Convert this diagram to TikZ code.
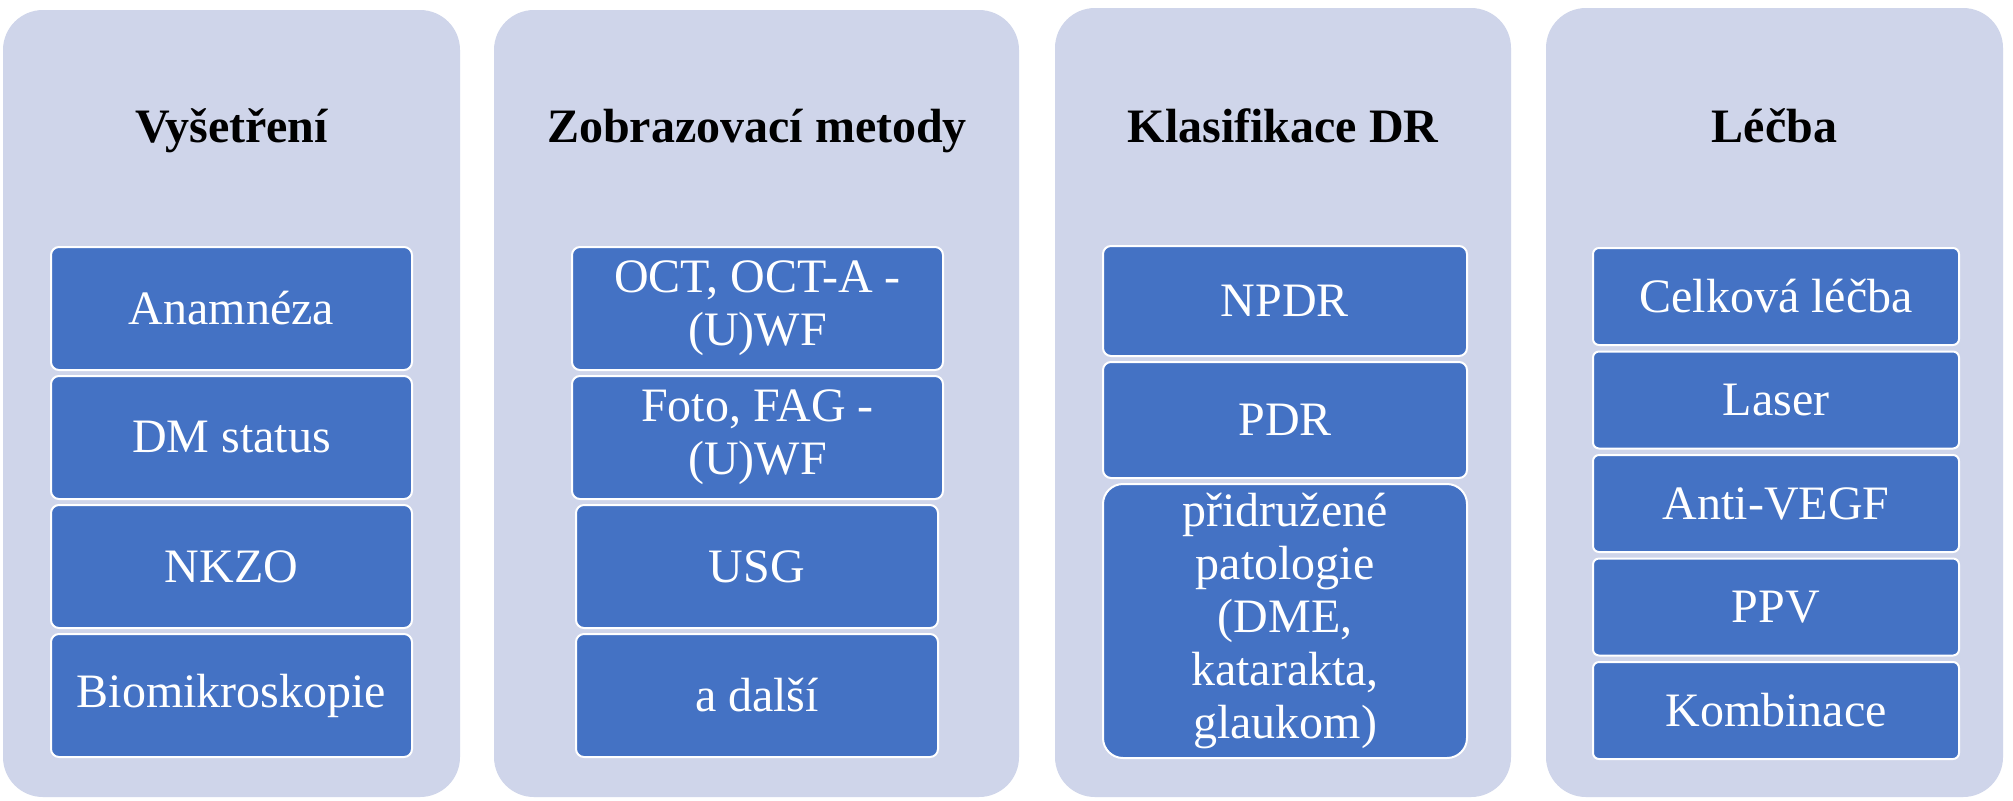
\documentclass[tikz,border=0pt]{standalone}
\usepackage{fontspec}
\setmainfont{Liberation Serif}
\usepackage{tikz}
\usetikzlibrary{positioning}

\definecolor{panelfill}{HTML}{CFD5EA}
\definecolor{itemfill}{HTML}{4472C4}

\begin{document}
\begin{tikzpicture}[x=0.5pt,y=-0.5pt]
\tikzset{
  panel/.style={fill=panelfill, rounded corners=20pt},
  heading/.style={anchor=base, inner sep=0pt, font=\bfseries\fontsize{24}{26}\selectfont},
  item/.style={draw=white, line width=1pt, fill=itemfill, text=white, align=center,
    rounded corners=4pt, inner sep=0pt, font=\fontsize{24}{26.5}\selectfont},
  itemA/.style={item, minimum width=180.5pt, minimum height=61.5pt},
  itemB/.style={item, minimum width=185.5pt, minimum height=61.5pt},
  itemC/.style={item, minimum width=181pt, minimum height=61.5pt},
  itemD/.style={item, minimum width=182pt},
  itemE/.style={item, minimum width=183pt, minimum height=48.5pt, rounded corners=3pt}
}
\fill [white] (0,0) rectangle (2013,800);
\useasboundingbox (0,0) rectangle (2013,800);

% columns
\fill [panel] (3,10) rectangle (460,797);
\fill [panel] (494,10) rectangle (1019,797);
\fill [panel] (1055,8) rectangle (1511,797);
\fill [panel] (1546,8) rectangle (2003,797);

% Vysetreni
\node (vys) [heading] at (231.5,142) {Vyšetření};
\node (anam) [itemA] at (231.5,308.5) {Anamnéza};
\node (dm) [itemA] at (231.5,437.5) {DM status};
\node (nkzo) [itemA] at (231.5,566.5) {NKZO};
\node (bio) [itemA] at (231.5,695.5) {Biomikroskopie};

% Zobrazovaci metody
\node (zob) [heading] at (757,142) {Zobrazovací metody};
\node (oct) [itemB] at (757.5,308.5) {OCT, OCT-A -\\(U)WF};
\node (foto) [itemB] at (757.5,437.5) {Foto, FAG -\\(U)WF};
\node (usg) [itemC] at (757,566.5) {USG};
\node (dalsi) [itemC] at (757,695.5) {a další};

% Klasifikace DR
\node (klas) [heading] at (1283,142) {Klasifikace DR};
\node (npdr) [itemD, minimum height=55pt] at (1285,301) {NPDR};
\node (pdr) [itemD, minimum height=58pt] at (1285,420) {PDR};
\node (prid) [itemD, minimum height=137pt, rounded corners=10pt] at (1285,621)
  {přidružené\\patologie\\(DME,\\katarakta,\\glaukom)};

% Lecba
\node (lec) [heading] at (1774.5,142) {Léčba};
\node (celk) [itemE] at (1776,296.5) {Celková léčba};
\node (laser) [itemE] at (1776,400) {Laser};
\node (anti) [itemE] at (1776,503.5) {Anti-VEGF};
\node (ppv) [itemE] at (1776,607) {PPV};
\node (komb) [itemE] at (1776,710.5) {Kombinace};

\end{tikzpicture}
\end{document}
